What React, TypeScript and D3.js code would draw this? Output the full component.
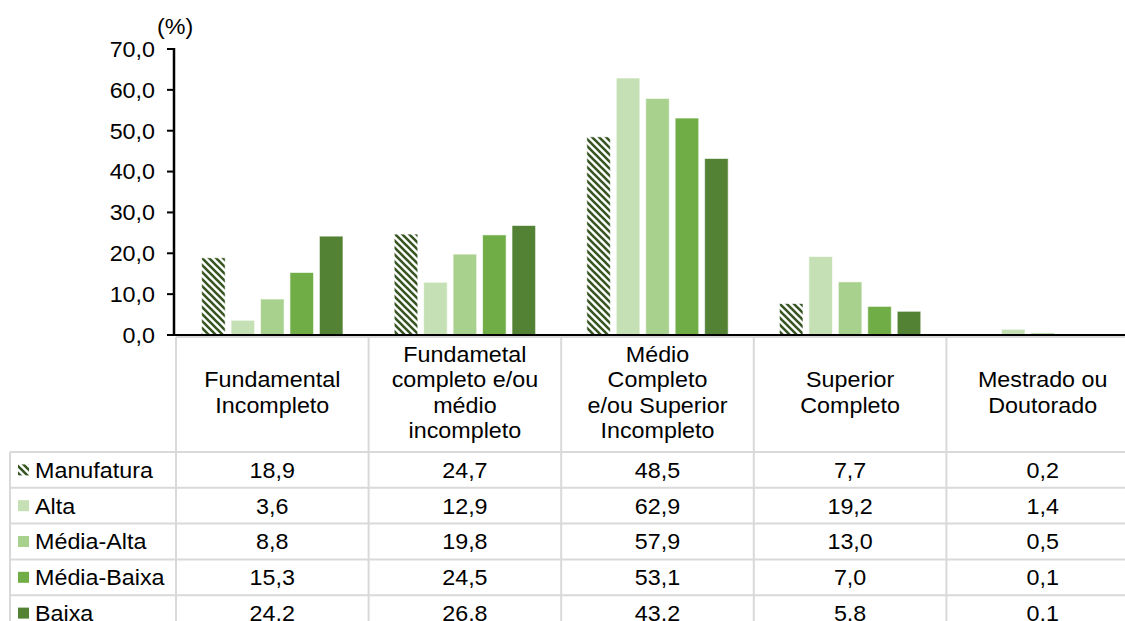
import React from 'react';
import * as d3 from 'd3';

const categoryLines: string[][] = [
  ['Fundamental', 'Incompleto'],
  ['Fundametal', 'completo e/ou', 'médio', 'incompleto'],
  ['Médio', 'Completo', 'e/ou Superior', 'Incompleto'],
  ['Superior', 'Completo'],
  ['Mestrado ou', 'Doutorado'],
];
const seriesNames = ['Manufatura', 'Alta', 'Média-Alta', 'Média-Baixa', 'Baixa'];
const manufatura = [18.9, 24.7, 48.5, 7.7, 0.2];
const alta = [3.6, 12.9, 62.9, 19.2, 1.4];
const mediaAlta = [8.8, 19.8, 57.9, 13.0, 0.5];
const mediaBaixa = [15.3, 24.5, 53.1, 7.0, 0.1];
const baixa = [24.2, 26.8, 43.2, 5.8, 0.1];
const yTicks = [0, 10, 20, 30, 40, 50, 60, 70];
const unitLabel = '(%)';

const seriesValues = [manufatura, alta, mediaAlta, mediaBaixa, baixa];
const seriesFills = ['url(#hatch)', '#c5e0b4', '#a9d18e', '#70ad47', '#548235'];
const hatchColor = '#375623';

const W = 1125;
const H = 621;
const FONT = '"Liberation Sans", Arial, Helvetica, sans-serif';
const FS = 22;
const SX = 1.06;

const fmt = (v: number) => d3.format('.1f')(v).replace('.', ',');

function T({ x, y, anchor = 'middle', children }: { x: number; y: number; anchor?: string; children: React.ReactNode }) {
  return (
    <text
      transform={`translate(${x},${y}) scale(${SX},1)`}
      textAnchor={anchor as any}
      fontFamily={FONT}
      fontSize={FS}
      fill="#000"
    >
      {children}
    </text>
  );
}

export default function App() {
  const catIdx = categoryLines.map((_, i) => String(i));
  const x0 = d3.scaleBand<string>().domain(catIdx).range([176, 176 + 5 * 192.6]).padding(0);
  const x1 = d3
    .scaleBand<string>()
    .domain(seriesNames)
    .range([0, x0.bandwidth()])
    .paddingInner(0.2)
    .paddingOuter(0.87);
  const y = d3.scaleLinear().domain([0, 70]).range([335, 49]);

  const tableTop = 337;
  const headerBottom = 452;
  const rowH = 35.8;
  const rowTops = seriesNames.map((_, i) => headerBottom + i * rowH);
  const gridColor = '#d9d9d9';
  const lineSpacing = 25.5;
  const headerCenterBaseline = 400;

  return (
    <svg width={W} height={H} style={{ position: 'absolute', left: 0, top: 0, background: '#fff' }}>
      <defs>
        <pattern id="hatch" patternUnits="userSpaceOnUse" width={7} height={7}>
          <rect width={7} height={7} fill="#fff" />
          <path d="M-2,-2 L9,9 M-2,5 L2,9 M5,-2 L9,2" stroke={hatchColor} strokeWidth={2.6} />
        </pattern>
      </defs>

      {/* bars */}
      {seriesNames.map((s, si) => (
        <g key={s}>
          {seriesValues[si].map((v, ci) => (
            <rect
              key={ci}
              x={(x0(String(ci)) as number) + (x1(s) as number)}
              y={y(v)}
              width={x1.bandwidth()}
              height={y(0) - y(v)}
              fill={seriesFills[si]}
              stroke="#ffffff"
              strokeOpacity={0.6}
              strokeWidth={1}
            />
          ))}
        </g>
      ))}

      {/* table grid */}
      {catIdx.concat(['5']).map((c, i) => (
        <line
          key={'v' + i}
          x1={176 + i * x0.bandwidth()}
          x2={176 + i * x0.bandwidth()}
          y1={tableTop}
          y2={H}
          stroke={gridColor}
          strokeWidth={2}
        />
      ))}
      <line x1={10} x2={10} y1={headerBottom} y2={H} stroke={gridColor} strokeWidth={2} />
      <line x1={176} x2={W} y1={tableTop} y2={tableTop} stroke={gridColor} strokeWidth={2} />
      {rowTops.map((t, i) => (
        <line key={'h' + i} x1={10} x2={W} y1={t} y2={t} stroke={gridColor} strokeWidth={2} />
      ))}

      {/* axes */}
      <line x1={174} x2={174} y1={y(70) - 1} y2={y(0)} stroke="#000" strokeWidth={2.5} />
      <line x1={167} x2={W} y1={y(0)} y2={y(0)} stroke="#000" strokeWidth={2} />
      {yTicks.map((t) => (
        <g key={t}>
          <line x1={167} x2={174} y1={y(t)} y2={y(t)} stroke="#000" strokeWidth={2} />
          <T x={155} y={y(t) + 7.8} anchor="end">
            {fmt(t)}
          </T>
        </g>
      ))}
      <T x={157} y={34} anchor="start">
        {unitLabel}
      </T>

      {/* header */}
      {categoryLines.map((lines, ci) => {
        const cx = (x0(String(ci)) as number) + x0.bandwidth() / 2;
        const start = headerCenterBaseline - ((lines.length - 1) * lineSpacing) / 2;
        return (
          <g key={'hd' + ci}>
            {lines.map((l, li) => (
              <T key={li} x={cx} y={start + li * lineSpacing}>
                {l}
              </T>
            ))}
          </g>
        );
      })}

      {/* rows */}
      {seriesNames.map((s, si) => {
        const cy = rowTops[si] + rowH / 2;
        return (
          <g key={'r' + s}>
            <rect x={18} y={cy - 5.5} width={11} height={11} fill={seriesFills[si]} />
            <T x={35} y={cy + 7.8} anchor="start">
              {s}
            </T>
            {seriesValues[si].map((v, ci) => (
              <T key={ci} x={(x0(String(ci)) as number) + x0.bandwidth() / 2} y={cy + 7.8}>
                {fmt(v)}
              </T>
            ))}
          </g>
        );
      })}
    </svg>
  );
}
